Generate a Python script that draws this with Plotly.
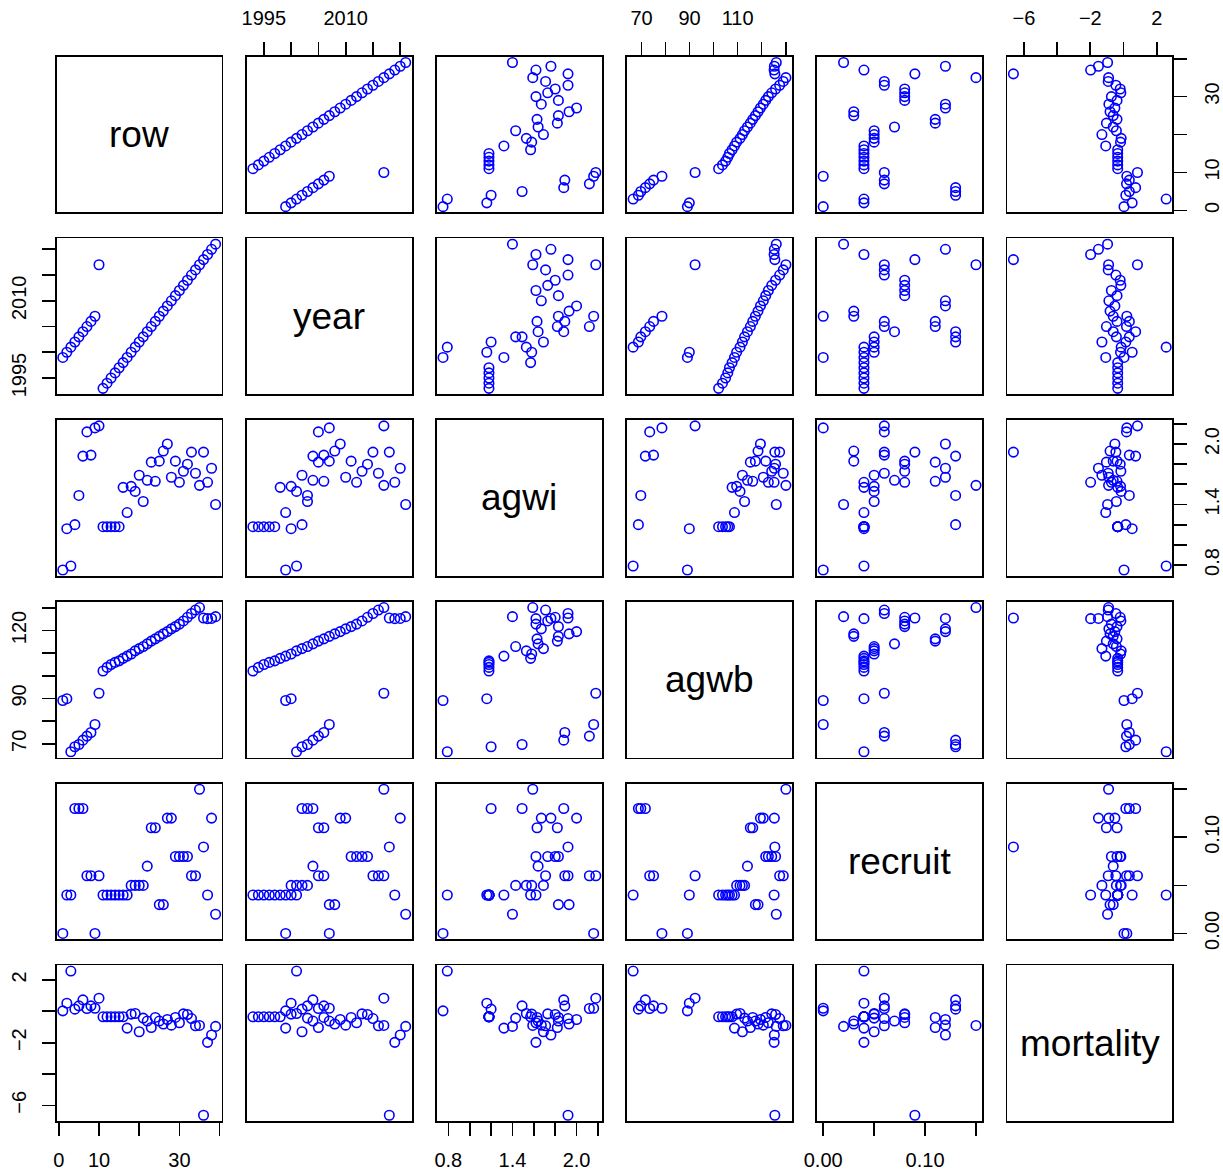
import plotly.graph_objects as go

# ---------------- data ----------------
names = ["row", "year", "agwi", "agwb", "recruit", "mortality"]

row = [1, 2, 3, 4, 5, 6, 7, 8, 9, 10,
       11, 12, 13, 14, 15, 16, 17, 18, 19, 20,
       21, 22, 23, 24, 25, 26, 27, 28, 29, 30,
       31, 32, 33, 34, 35, 36, 37, 38, 39]

year = [1999, 2000, 2001, 2002, 2003, 2004, 2005, 2006, 2007, 2017,
        1993, 1994, 1995, 1996, 1997, 1998, 1999, 2000, 2001, 2002,
        2003, 2004, 2005, 2006, 2007, 2008, 2009, 2010, 2011, 2012,
        2013, 2014, 2015, 2016, 2017, 2018, 2019, 2020, 2021]

agwi = [0.75, 1.16, 0.79, 1.20, 1.49, 1.88, 2.12, 1.89, 2.16, 2.18,
        1.18, 1.18, 1.18, 1.18, 1.18, 1.57, 1.32, 1.58, 1.53, 1.69,
        1.43, 1.64, 1.82, 1.63, 1.83, 1.93, 2.00, 1.67, 1.83, 1.62,
        1.73, 1.80, 1.92, 1.71, 1.59, 1.92, 1.62, 1.76, 1.40]

agwb = [89.1, 89.9, 66.5, 68.7, 69.7, 71.6, 73.4, 75.0, 78.5, 92.3,
        102.1, 103.7, 105.0, 105.9, 106.6, 107.7, 108.7, 109.6, 111.0, 112.0,
        112.9, 114.1, 115.3, 116.3, 117.4, 118.5, 119.5, 120.7, 121.7, 122.8,
        124.2, 125.8, 127.5, 129.0, 130.1, 125.5, 125.2, 125.3, 126.1]

recruit = [0.00, 0.04, 0.04, 0.13, 0.13, 0.13, 0.06, 0.06, 0.00, 0.06,
           0.04, 0.04, 0.04, 0.04, 0.04, 0.04, 0.04, 0.05, 0.05, 0.05,
           0.05, 0.07, 0.11, 0.11, 0.03, 0.03, 0.12, 0.12, 0.08, 0.08,
           0.08, 0.08, 0.06, 0.06, 0.15, 0.09, 0.04, 0.12, 0.02]

mortality = [0.03, 0.52, 2.57, 0.14, 0.35, 0.73, 0.18, 0.35, 0.20, 0.84,
             -0.35, -0.35, -0.35, -0.35, -0.35, -0.35, -1.07, -0.18, -0.14, -1.30,
             -0.43, -0.62, -1.03, -0.39, -0.62, -0.81, -0.52, -0.88, -0.39, -0.73,
             -0.16, -0.20, -0.46, -0.92, -0.90, -6.63, -1.98, -1.51, -0.96]

# tick values and labels (R drops overlapping labels)
row_ticks = [0, 10, 20, 30, 40]
row_labels = ["0", "10", "", "30", ""]
year_ticks = [1995, 2000, 2005, 2010, 2015, 2020]
year_labels = ["1995", "", "", "2010", "", ""]
agwi_ticks = [0.8, 1.0, 1.2, 1.4, 1.6, 1.8, 2.0, 2.2]
agwi_labels = ["0.8", "", "", "1.4", "", "", "2.0", ""]
agwb_ticks = [70, 80, 90, 100, 110, 120, 130]
agwb_labels_h = ["70", "", "90", "", "110", "", ""]
agwb_labels_v = ["70", "", "90", "", "", "120", ""]
recruit_ticks = [0.00, 0.05, 0.10, 0.15]
recruit_labels = ["0.00", "", "0.10", ""]
mort_ticks = [-6, -4, -2, 0, 2]
mort_labels = ["\u22126", "", "\u22122", "", "2"]

values = {"row": row, "year": year, "agwi": agwi, "agwb": agwb,
          "recruit": recruit, "mortality": mortality}
ticks_h = {"row": (row_ticks, row_labels), "year": (year_ticks, year_labels),
           "agwi": (agwi_ticks, agwi_labels), "agwb": (agwb_ticks, agwb_labels_h),
           "recruit": (recruit_ticks, recruit_labels), "mortality": (mort_ticks, mort_labels)}
ticks_v = {"row": (row_ticks, row_labels), "year": (year_ticks, year_labels),
           "agwi": (agwi_ticks, agwi_labels), "agwb": (agwb_ticks, agwb_labels_v),
           "recruit": (recruit_ticks, recruit_labels), "mortality": (mort_ticks, mort_labels)}

# ---------------- layout geometry ----------------
W, H = 1223, 1172
col_x0 = [56.7, 246.8, 436.9, 627.0, 817.1, 1007.3]
row_y0 = [56.7, 238.4, 420.1, 601.8, 783.5, 965.3]
PW, PH = 165.0, 155.7

FONT = "Liberation Sans, Arial, Helvetica, sans-serif"
LW = 1.7
TICKLEN = 13
TICKFONT = dict(family=FONT, size=20, color="black")


def prange(v):
    lo, hi = min(v), max(v)
    d = hi - lo
    return [lo - 0.04 * d, hi + 0.04 * d]


fig = go.Figure()
layout = dict(width=W, height=H, margin=dict(l=0, r=0, t=0, b=0, pad=0),
              paper_bgcolor="white", plot_bgcolor="white", showlegend=False,
              annotations=[])

n_vars = len(names)
for i in range(n_vars):
    for j in range(n_vars):
        n = i * n_vars + j + 1
        xa = "xaxis" if n == 1 else f"xaxis{n}"
        ya = "yaxis" if n == 1 else f"yaxis{n}"
        xr = "x" if n == 1 else f"x{n}"
        yr = "y" if n == 1 else f"y{n}"
        xdom = [col_x0[j] / W, (col_x0[j] + PW) / W]
        ydom = [1 - (row_y0[i] + PH) / H, 1 - row_y0[i] / H]
        base = dict(showline=True, mirror=True, linecolor="black", linewidth=LW,
                    showgrid=False, zeroline=False, fixedrange=True, automargin=False)
        xcfg = dict(base, domain=xdom, anchor=yr)
        ycfg = dict(base, domain=ydom, anchor=xr)
        if i == j:
            xcfg.update(range=[0, 1], ticks="", showticklabels=False)
            ycfg.update(range=[0, 1], ticks="", showticklabels=False)
            layout["annotations"].append(dict(
                x=0.5, y=0.5, xref=xr, yref=yr, text=names[i], showarrow=False,
                font=dict(family=FONT, size=37, color="black"),
                xanchor="center", yanchor="middle"))
        else:
            xv, yv = names[j], names[i]
            xcfg.update(range=prange(values[xv]))
            ycfg.update(range=prange(values[yv]))
            fig.add_trace(go.Scatter(
                x=values[xv], y=values[yv], mode="markers", xaxis=xr, yaxis=yr,
                marker=dict(symbol="circle-open", size=9.5, color="#0000FF",
                            line=dict(width=1.6, color="#0000FF")),
                hoverinfo="skip"))
            # x axis ticks
            if (i == 0 and j % 2 == 1) or (i == n_vars - 1 and j % 2 == 0):
                tv, tt = ticks_h[xv]
                xcfg.update(side="top" if i == 0 else "bottom", ticks="outside",
                            ticklen=TICKLEN, tickwidth=LW, tickcolor="black",
                            tickmode="array", tickvals=tv, ticktext=tt,
                            showticklabels=True, tickfont=TICKFONT,
                            ticklabelstandoff=9 if i == 0 else 7, tickangle=0)
            else:
                xcfg.update(ticks="", showticklabels=False)
            # y axis ticks
            if (j == 0 and i % 2 == 1) or (j == n_vars - 1 and i % 2 == 0):
                tv, tt = ticks_v[yv]
                ycfg.update(side="left" if j == 0 else "right", ticks="outside",
                            ticklen=TICKLEN, tickwidth=LW, tickcolor="black",
                            tickmode="array", tickvals=tv, ticktext=tt,
                            showticklabels=True, tickfont=TICKFONT,
                            ticklabelstandoff=8, tickangle=-90)
            else:
                ycfg.update(ticks="", showticklabels=False)
        layout[xa] = xcfg
        layout[ya] = ycfg

fig.update_layout(**layout)
fig.write_html(
    "out.html",
    config={"displayModeBar": False, "staticPlot": True},
    post_script="document.body.style.margin='0';document.body.style.padding='0';"
                "document.body.style.overflow='hidden';",
)
